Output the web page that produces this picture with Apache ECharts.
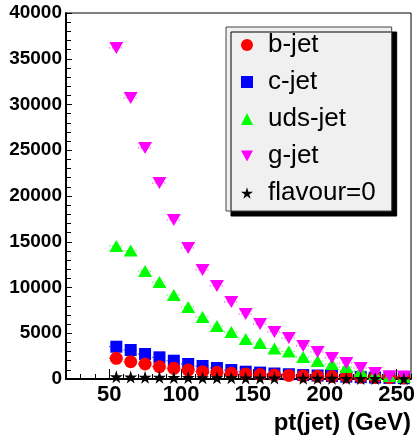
<!DOCTYPE html>
<html>
<head>
<meta charset="utf-8">
<script src="https://cdn.jsdelivr.net/npm/echarts@6/dist/echarts.min.js"></script>
<style>
  html, body { margin: 0; padding: 0; background: #fff; }
  #chart { width: 418px; height: 439px; }
</style>
</head>
<body>
<div id="chart"></div>
<script>
// Jet pt spectra by flavour, 10 GeV bins from 20 to 260 GeV
const binCenters = [55, 65, 75, 85, 95, 105, 115, 125, 135, 145, 155, 165, 175, 185, 195, 205, 215, 225, 235, 245, 255];
const bJet     = [2260, 1890, 1640, 1350, 1170, 980, 800, 730, 620, 550, 480, 430, 390, 340, 300, 270, 230, 200, 170, 140, 110];
const cJet     = [3530, 3170, 2730, 2370, 2000, 1640, 1420, 1200, 980, 800, 700, 600, 520, 430, 380, 320, 260, 200, 160, 120, 90];
const udsJet   = [14540, 14050, 11800, 10600, 9180, 7870, 6780, 5790, 5140, 4370, 3940, 3330, 3000, 2400, 1970, 1640, 1310, 870, 550, 330, 220];
const gJet     = [36180, 30710, 25250, 21420, 17380, 14320, 11910, 10170, 8420, 7100, 6010, 5140, 4480, 3610, 2950, 2300, 1750, 1200, 660, 300, 280];
const flavour0 = [250, 220, 200, 190, 170, 160, 150, 140, 130, 120, 110, 100, null, 90, 80, 70, 60, 60, 50, null, 40];

const xLabelTicks = [50, 100, 150, 200, 250];
const xMinorTicks = [30, 40, 50, 60, 70, 80, 90, 100, 110, 120, 130, 140, 150, 160, 170, 180, 190, 200, 210, 220, 230, 240, 250, 260];
const binHalfWidth = 5;

const FONT = 'Liberation Sans, Arial, Helvetica, sans-serif';
const DOWN_TRIANGLE = 'path://M0,0 L12,0 L6,11 Z';
const STAR = 'path://M50,0 L61,35 L98,35 L68,57 L79,91 L50,70 L21,91 L32,57 L2,35 L39,35 Z';

function pairs(values) {
  return binCenters.map((x, i) => [x, values[i]]).filter(p => p[1] !== null);
}

// dotted horizontal bin-width bars behind each marker
function binBars(values, color, z) {
  return {
    type: 'custom',
    silent: true,
    z: z,
    data: pairs(values),
    renderItem: function (params, api) {
      const x = api.value(0), y = api.value(1);
      const a = api.coord([x - binHalfWidth, y]);
      const b = api.coord([x + binHalfWidth, y]);
      return {
        type: 'line',
        shape: { x1: a[0], y1: a[1], x2: b[0], y2: b[1] },
        style: { stroke: color, lineWidth: 1, lineDash: [1, 2] }
      };
    }
  };
}

function markers(name, values, color, symbol, size, z) {
  return {
    name: name,
    type: 'scatter',
    data: pairs(values),
    symbol: symbol,
    symbolSize: size,
    itemStyle: { color: color, opacity: 1 },
    z: z,
    emphasis: { disabled: true }
  };
}

const chart = echarts.init(document.getElementById('chart'), null, { renderer: 'canvas' });

chart.setOption({
  animation: false,
  backgroundColor: '#fff',
  grid: {
    left: 66, top: 13, width: 346, height: 366,
    show: true, borderColor: '#000', borderWidth: 1, backgroundColor: 'transparent'
  },
  xAxis: [
    {
      type: 'value', min: 20, max: 260,
      name: 'pt(jet) (GeV)',
      nameLocation: 'end',
      nameGap: 0,
      nameTextStyle: {
        fontFamily: FONT, fontSize: 24, fontWeight: 'bold', color: '#000',
        align: 'right', verticalAlign: 'top', padding: [32, 0, 0, 0]
      },
      axisLine: { show: true, onZero: false, lineStyle: { color: '#000', width: 2 } },
      axisTick: { show: true, inside: true, length: 5, customValues: xMinorTicks, lineStyle: { color: '#000', width: 1 } },
      axisLabel: {
        customValues: xLabelTicks, margin: 5,
        fontFamily: FONT, fontSize: 22, fontWeight: 'bold', color: '#000'
      },
      splitLine: { show: false }
    },
    {
      type: 'value', min: 20, max: 260, position: 'bottom', gridIndex: 0,
      axisLine: { show: false, onZero: false },
      axisTick: { show: true, inside: true, length: 10, customValues: xLabelTicks, lineStyle: { color: '#000', width: 1 } },
      axisLabel: { show: false },
      splitLine: { show: false }
    }
  ],
  yAxis: {
    type: 'value', min: 0, max: 40000, interval: 5000,
    axisLine: { show: true, lineStyle: { color: '#000', width: 2 } },
    axisTick: { show: true, inside: true, length: 6, lineStyle: { color: '#000', width: 1 } },
    minorTick: { show: true, splitNumber: 5, length: 5, lineStyle: { color: '#000', width: 1 } },
    axisLabel: {
      margin: 4, fontFamily: FONT, fontSize: 19, fontWeight: 'bold', color: '#000',
      formatter: v => String(v)
    },
    splitLine: { show: false }
  },
  legend: {
    orient: 'vertical',
    left: 226, top: 27,
    padding: [3, 16, 3, 15],
    itemGap: 7,
    itemWidth: 12, itemHeight: 12,
    backgroundColor: '#f0f0f0',
    borderColor: '#444', borderWidth: 1,
    shadowColor: '#000', shadowBlur: 0, shadowOffsetX: 5, shadowOffsetY: 5,
    selectedMode: false,
    textStyle: { fontFamily: FONT, fontSize: 26, lineHeight: 30, color: '#000', padding: [0, 0, 0, 10] },
    data: ['b-jet', 'c-jet', 'uds-jet', 'g-jet', 'flavour=0']
  },
  series: [
    binBars(cJet, '#0000ff', 1),
    binBars(bJet, '#ff0000', 1),
    binBars(udsJet, '#00ff00', 1),
    binBars(gJet, '#ff00ff', 1),
    markers('c-jet', cJet, '#0000ff', 'rect', 12, 2),
    markers('b-jet', bJet, '#ff0000', 'circle', 13, 3),
    markers('uds-jet', udsJet, '#00ff00', 'triangle', [14, 12], 4),
    markers('g-jet', gJet, '#ff00ff', DOWN_TRIANGLE, [14, 12], 5),
    markers('flavour=0', flavour0, '#000000', STAR, 13, 6)
  ]
});
</script>
</body>
</html>
